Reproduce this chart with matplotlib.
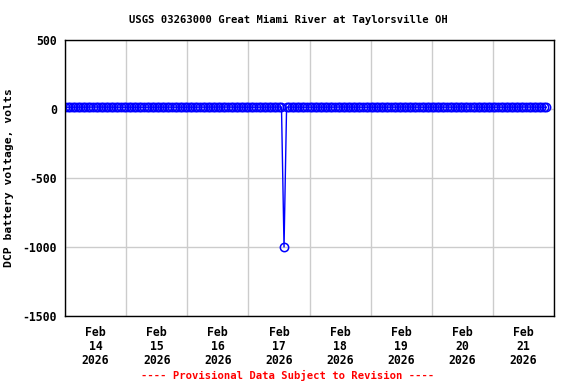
import matplotlib
matplotlib.use("Agg")
import matplotlib.pyplot as plt
import matplotlib.dates as mdates
import numpy as np
from datetime import datetime, timedelta

# Hourly DCP battery voltage, Feb 14 00:00 .. Feb 21 21:00
day_14 = [12.8, 12.8, 12.7, 12.7, 12.7, 12.7, 12.7, 12.7, 12.8, 13.2, 13.7, 13.9,
          14.0, 14.0, 13.9, 13.8, 13.6, 13.2, 12.9, 12.8, 12.8, 12.8, 12.7, 12.7]
day_15 = [12.7, 12.7, 12.7, 12.7, 12.6, 12.6, 12.6, 12.7, 12.8, 13.1, 13.6, 13.8,
          13.9, 14.0, 13.9, 13.8, 13.5, 13.1, 12.9, 12.8, 12.8, 12.7, 12.7, 12.7]
day_16 = [12.7, 12.7, 12.7, 12.6, 12.6, 12.6, 12.6, 12.7, 12.8, 13.0, 13.5, 13.8,
          13.9, 13.9, 13.9, 13.7, 13.4, 13.0, 12.9, 12.8, 12.7, 12.7, 12.7, 12.7]
day_17 = [12.7, 12.7, 12.6, 12.6, 12.6, 12.6, 12.6, 12.7, 12.8, 13.1, 13.6, 13.9,
          14.0, 14.0, -1000.0, 13.8, 13.5, 13.1, 12.9, 12.8, 12.8, 12.7, 12.7, 12.7]
day_18 = [12.7, 12.7, 12.7, 12.6, 12.6, 12.6, 12.6, 12.7, 12.8, 13.2, 13.7, 13.9,
          14.0, 14.0, 13.9, 13.8, 13.6, 13.2, 12.9, 12.8, 12.8, 12.7, 12.7, 12.7]
day_19 = [12.7, 12.7, 12.7, 12.7, 12.6, 12.6, 12.6, 12.7, 12.8, 13.1, 13.6, 13.9,
          14.0, 14.0, 13.9, 13.7, 13.5, 13.1, 12.9, 12.8, 12.8, 12.7, 12.7, 12.7]
day_20 = [12.7, 12.7, 12.7, 12.6, 12.6, 12.6, 12.6, 12.7, 12.8, 13.2, 13.7, 13.9,
          14.0, 14.1, 14.0, 13.8, 13.6, 13.2, 12.9, 12.8, 12.8, 12.8, 12.7, 12.7]
day_21 = [12.7, 12.7, 12.7, 12.7, 12.6, 12.6, 12.6, 12.7, 12.8, 13.2, 13.7, 13.9,
          14.0, 14.0, 13.9, 13.8, 13.6, 13.2, 12.9, 12.8, 12.8, 12.7]

voltage = day_14 + day_15 + day_16 + day_17 + day_18 + day_19 + day_20 + day_21
start = datetime(2026, 2, 14, 0, 0)
times = [start + timedelta(hours=i) for i in range(len(voltage))]

day_ticks = [datetime(2026, 2, d) for d in range(14, 23)]
label_pos = [datetime(2026, 2, d, 12) for d in range(14, 22)]
day_labels = ["Feb\n%d\n2026" % d for d in range(14, 22)]
y_ticks = [500, 0, -500, -1000, -1500]

font = "DejaVu Sans Mono"
fig = plt.figure(figsize=(5.76, 3.84), dpi=100)
ax = fig.add_axes([65 / 576, 1 - 316 / 384, 489 / 576, 276 / 384])

ax.plot(times, voltage, color="blue", lw=1.0, marker="o", ms=6,
        mfc="none", mec="blue", mew=1.1)

ax.set_xlim(day_ticks[0], day_ticks[-1])
ax.set_ylim(-1500, 500)
ax.set_xticks(day_ticks)
ax.set_xticklabels([])
ax.set_xticks(label_pos, minor=True)
ax.set_xticklabels(day_labels, minor=True, fontfamily=font,
                   fontweight="bold", fontsize=8.3, linespacing=1.12)
ax.set_yticks(y_ticks)
ax.set_yticklabels([str(v) for v in y_ticks], fontfamily=font,
                   fontweight="bold", fontsize=8.3)
ax.tick_params(axis="x", which="both", length=0, pad=7)
ax.tick_params(axis="y", which="both", length=0, pad=6)
ax.grid(True, which="major", color="#cccccc", lw=1.0)
ax.set_axisbelow(True)
for s in ax.spines.values():
    s.set_color("black")
    s.set_linewidth(1.0)

ax.set_ylabel("DCP battery voltage, volts", fontfamily=font,
              fontweight="bold", fontsize=8.2)
ax.yaxis.set_label_coords((14 - 65) / 489, 0.5)
fig.text(0.5, 1 - 20 / 384, "USGS 03263000 Great Miami River at Taylorsville OH",
         ha="center", va="center", fontfamily=font, fontweight="bold", fontsize=7.6)
fig.text(0.5, 1 - 375 / 384, "---- Provisional Data Subject to Revision ----",
         ha="center", va="center", fontfamily=font, fontweight="bold",
         fontsize=7.6, color="red")

fig.savefig("out.png", dpi=100)
